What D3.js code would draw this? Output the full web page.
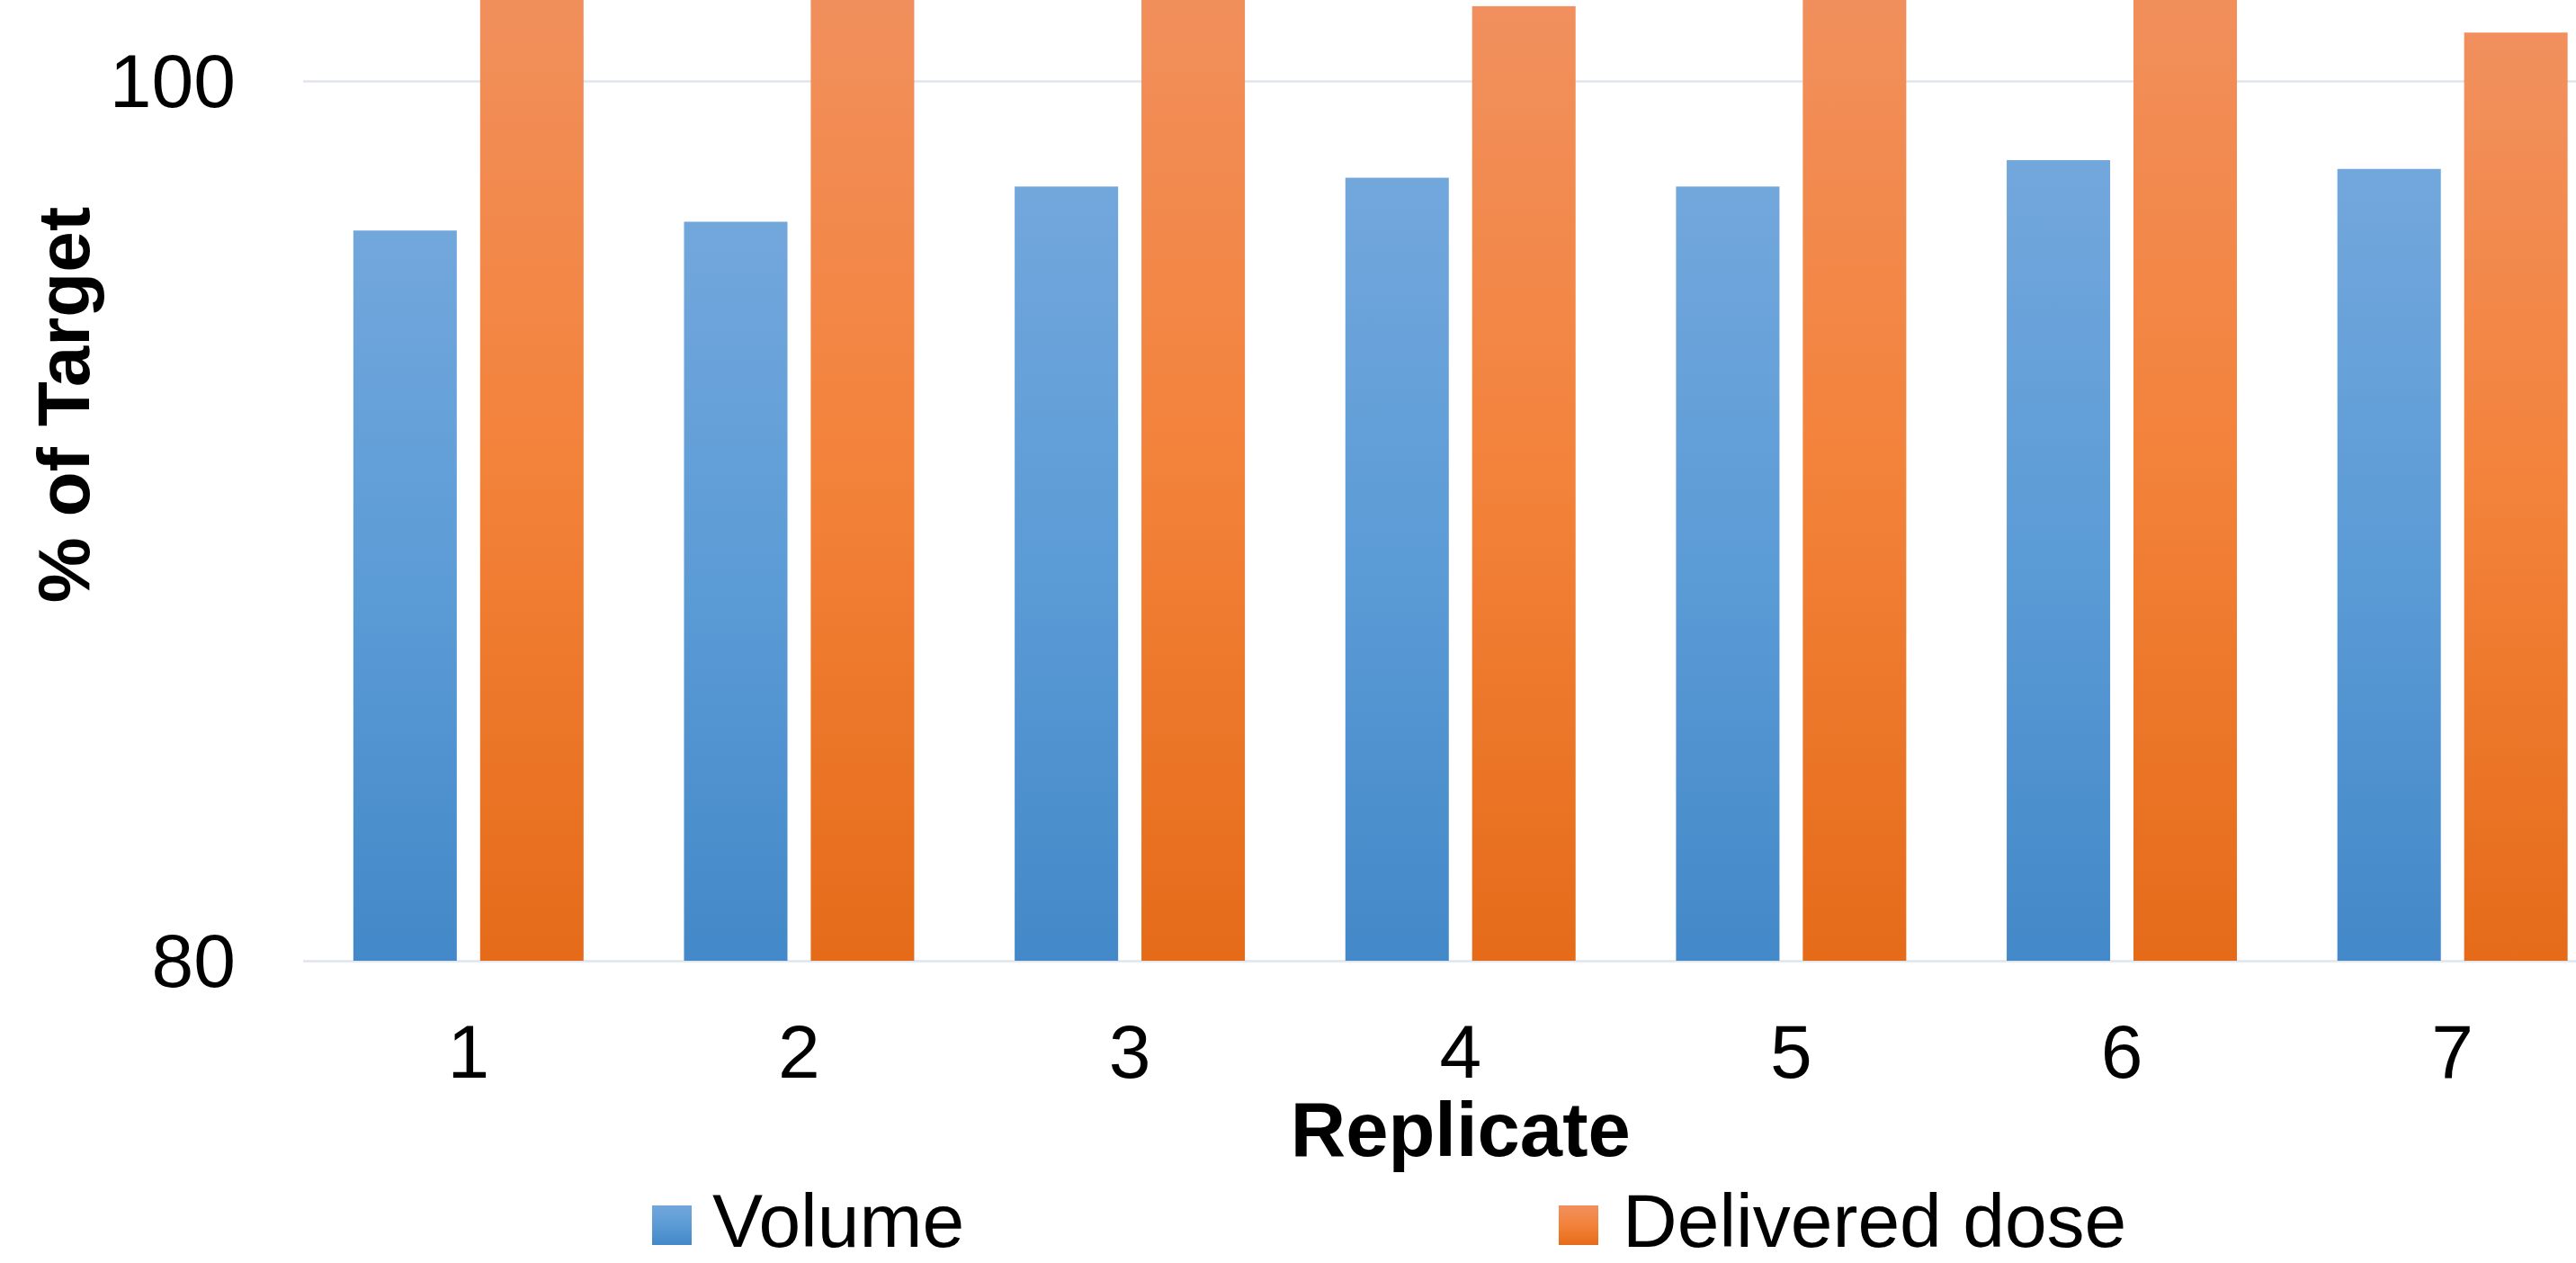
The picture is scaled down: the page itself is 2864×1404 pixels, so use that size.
<!DOCTYPE html>
<html>
<head>
<meta charset="utf-8">
<script src="https://cdn.jsdelivr.net/npm/d3@7"></script>
<style>
  html, body { margin: 0; padding: 0; background: #ffffff; }
  svg { display: block; overflow: hidden; }
</style>
</head>
<body>
<svg id="chart" width="2864" height="1404"></svg>
<script>
// ---- data ----
const categories = ["1", "2", "3", "4", "5", "6", "7"];
const seriesNames = ["Volume", "Delivered dose"];
const volumeValues = [96.6, 96.8, 97.6, 97.8, 97.6, 98.2, 98.0];
const deliveredValues = [102.5, 102.3, 102.6, 101.7, 102.4, 102.7, 101.1];
const yTickValues = [80, 100];
const xTitle = "Replicate";
const yTitle = "% of Target";

// ---- layout ----
const W = 2864, H = 1404;
const plotLeft = 337, plotRight = 2910.5;   // plot extends past the right edge (cropped)
const yBottom = 1068, y100 = 90;
const fontFamily = "'Liberation Sans', Arial, Helvetica, sans-serif";

const svg = d3.select("#chart");
const defs = svg.append("defs");

function grad(id, stops) {
  const g = defs.append("linearGradient").attr("id", id)
    .attr("x1", 0).attr("y1", 0).attr("x2", 0).attr("y2", 1);
  stops.forEach(s => g.append("stop").attr("offset", s[0]).attr("stop-color", s[1]));
}
grad("gBlue", [[0, "#72a7dc"], [0.5, "#5b9bd6"], [1, "#4388c8"]]);
grad("gOrange", [[0, "#f1905e"], [0.5, "#f3823a"], [1, "#e56b19"]]);
const fills = ["url(#gBlue)", "url(#gOrange)"];

const y = d3.scaleLinear().domain([80, 100]).range([yBottom, y100]);

const x0 = d3.scaleBand().domain(categories)
  .range([plotLeft, plotRight])
  .paddingInner(0.3038).paddingOuter(0.1519);
const x1 = d3.scaleBand().domain(seriesNames)
  .range([0, x0.bandwidth()])
  .paddingInner(0.184).paddingOuter(0);

// gridlines + y tick labels
const yAxis = d3.axisLeft(y).tickValues(yTickValues)
  .tickSize(-(W - plotLeft)).tickPadding(75).tickFormat(d3.format("d"));
const gy = svg.append("g").attr("transform", `translate(${plotLeft},0)`).call(yAxis);
gy.select(".domain").remove();
gy.selectAll(".tick line").attr("stroke", "#e0e4ec").attr("stroke-width", 2.5);
gy.selectAll(".tick text")
  .attr("font-family", fontFamily).attr("font-size", 84).attr("fill", "#000")
  .attr("dy", "0.34em");

// bars
const data = categories.map((c, i) => ({ cat: c, vals: [volumeValues[i], deliveredValues[i]] }));
const groups = svg.append("g").selectAll("g").data(data).join("g")
  .attr("transform", d => `translate(${x0(d.cat)},0)`);
groups.selectAll("rect")
  .data(d => d.vals.map((v, j) => ({ key: seriesNames[j], v, j })))
  .join("rect")
  .attr("x", d => x1(d.key))
  .attr("width", x1.bandwidth())
  .attr("y", d => y(d.v))
  .attr("height", d => yBottom - y(d.v))
  .attr("fill", d => fills[d.j]);

// x axis labels
const xAxis = d3.axisBottom(x0).tickSize(0).tickPadding(0);
const gx = svg.append("g").attr("transform", `translate(0,${yBottom})`).call(xAxis);
gx.select(".domain").remove();
gx.selectAll(".tick text")
  .attr("font-family", fontFamily).attr("font-size", 84).attr("fill", "#000")
  .attr("y", 130).attr("dy", 0);

// axis titles
svg.append("text")
  .attr("x", (plotLeft + plotRight) / 2).attr("y", 1285)
  .attr("text-anchor", "middle")
  .attr("font-family", fontFamily).attr("font-size", 85).attr("font-weight", "bold")
  .text(xTitle);

svg.append("text")
  .attr("transform", "translate(99,450) rotate(-90)")
  .attr("text-anchor", "middle")
  .attr("font-family", fontFamily).attr("font-size", 82).attr("font-weight", "bold")
  .text(yTitle);

// legend
const legendX = [725, 1733];
const lg = svg.append("g").selectAll("g").data(seriesNames).join("g")
  .attr("transform", (d, i) => `translate(${legendX[i]},1340)`);
lg.append("rect").attr("width", 44).attr("height", 44)
  .attr("fill", (d, i) => fills[i]);
lg.append("text").attr("x", (d, i) => i === 0 ? 67 : 71).attr("y", 46)
  .attr("font-family", fontFamily).attr("font-size", 84).attr("fill", "#000")
  .text(d => d);
</script>
</body>
</html>
